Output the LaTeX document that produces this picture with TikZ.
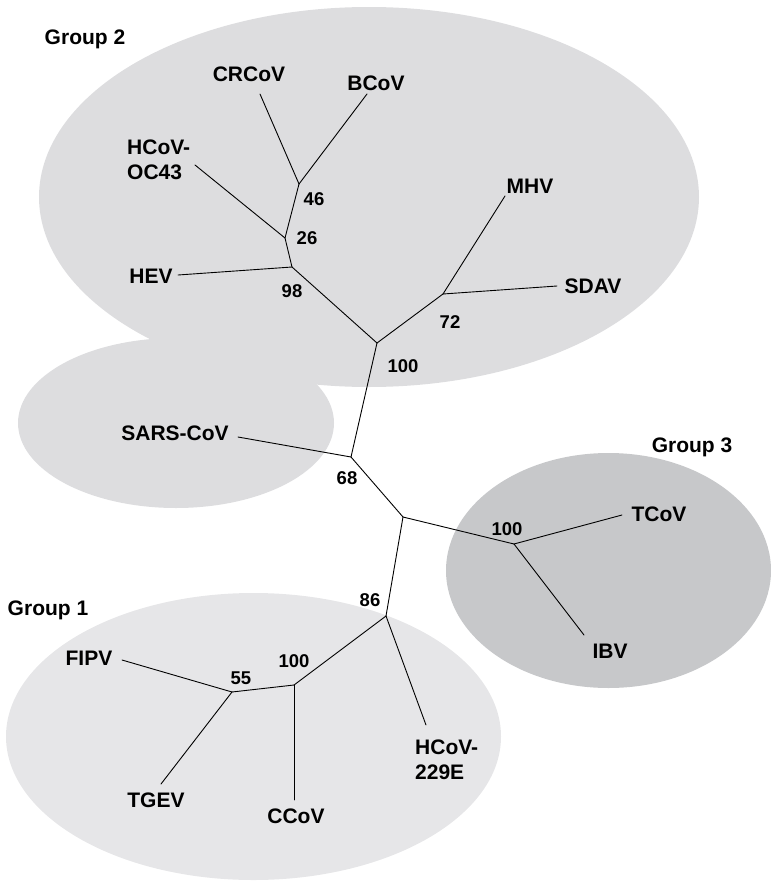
\documentclass[tikz,border=0pt]{standalone}
\usepackage{fontspec}
\setmainfont{Liberation Sans}
\definecolor{gtwo}{RGB}{221,221,223}
\definecolor{gone}{RGB}{230,230,232}
\definecolor{gthree}{RGB}{199,200,202}
\begin{document}
\begin{tikzpicture}[x=1pt,y=-1pt,
  lab/.style={font=\fontsize{21}{25}\selectfont\bfseries, inner sep=0pt, text height=15pt, text depth=0pt},
  lab2/.style={font=\fontsize{21}{25}\selectfont\bfseries, inner sep=0pt, align=left, anchor=north west},
  num/.style={font=\fontsize{18.5}{22}\selectfont\bfseries, inner sep=0pt, text height=13.2pt, text depth=0pt},
  branch/.style={line width=0.9pt, line cap=round, line join=round}]
\useasboundingbox (0,0) rectangle (771,881);
\begin{scope}
  \clip (0,0) rectangle (771,881);
  \fill[gtwo] (369,197) ellipse [x radius=330, y radius=190];
  \fill[gtwo] (176,423) ellipse [x radius=158, y radius=85];
  \fill[gthree] (608.5,570.5) ellipse [x radius=162.5, y radius=117.5];
  \fill[gone] (253.5,736.5) ellipse [x radius=247.5, y radius=143.5];
\end{scope}
% junctions
\coordinate (j46) at (299,184);
\coordinate (j26) at (285,238);
\coordinate (j98) at (292,267);
\coordinate (j100a) at (377,343);
\coordinate (j72) at (443,294);
\coordinate (j68) at (351,457);
\coordinate (jm) at (403,517);
\coordinate (jg3) at (514,544);
\coordinate (j86) at (386,616);
\coordinate (j100b) at (294,685);
\coordinate (j55) at (232,692);
% leaf ends
\coordinate (eCR) at (260,94);
\coordinate (eB) at (367,94);
\coordinate (eOC) at (195,165);
\coordinate (eHEV) at (178,275);
\coordinate (eMHV) at (505,196);
\coordinate (eSDAV) at (557,286);
\coordinate (eSARS) at (238,437);
\coordinate (eT) at (622,515);
\coordinate (eIBV) at (584,635);
\coordinate (eFIPV) at (122,660);
\coordinate (eTGEV) at (161,784);
\coordinate (eCCoV) at (294,800);
\coordinate (e229) at (426,725);
% branches
\draw[branch] (j46) -- (eCR);
\draw[branch] (j46) -- (eB);
\draw[branch] (j46) -- (j26);
\draw[branch] (j26) -- (eOC);
\draw[branch] (j26) -- (j98);
\draw[branch] (j98) -- (eHEV);
\draw[branch] (j98) -- (j100a);
\draw[branch] (j100a) -- (j72);
\draw[branch] (j72) -- (eMHV);
\draw[branch] (j72) -- (eSDAV);
\draw[branch] (j100a) -- (j68);
\draw[branch] (j68) -- (eSARS);
\draw[branch] (j68) -- (jm);
\draw[branch] (jm) -- (jg3);
\draw[branch] (jg3) -- (eT);
\draw[branch] (jg3) -- (eIBV);
\draw[branch] (jm) -- (j86);
\draw[branch] (j86) -- (e229);
\draw[branch] (j86) -- (j100b);
\draw[branch] (j100b) -- (eCCoV);
\draw[branch] (j100b) -- (j55);
\draw[branch] (j55) -- (eFIPV);
\draw[branch] (j55) -- (eTGEV);
% group labels
\node[lab] (g2) at (85,37) {Group 2};
\node[lab] (g3) at (692,445) {Group 3};
\node[lab] (g1) at (48,608) {Group 1};
% taxa
\node[lab] (crcov) at (249,74) {CRCoV};
\node[lab] (bcov) at (376,83) {BCoV};
\node[lab2] (oc43) at (127,140) {HCoV-\\OC43};
\node[lab] (hev) at (151,276) {HEV};
\node[lab] (mhv) at (530,186) {MHV};
\node[lab] (sdav) at (593,286) {SDAV};
\node[lab] (sars) at (175,433) {SARS-CoV};
\node[lab] (tcov) at (659,514) {TCoV};
\node[lab] (ibv) at (610,651) {IBV};
\node[lab] (fipv) at (89,658) {FIPV};
\node[lab] (tgev) at (156,800) {TGEV};
\node[lab] (ccov) at (296,816) {CCoV};
\node[lab2] (h229) at (415,740) {HCoV-\\229E};
% bootstrap values
\node[num] (b46) at (314,199) {46};
\node[num] (b26) at (307,238) {26};
\node[num] (b98) at (292,291) {98};
\node[num] (b72) at (450,322) {72};
\node[num] (b100a) at (403,366) {100};
\node[num] (b68) at (347,478) {68};
\node[num] (b100c) at (507,529) {100};
\node[num] (b86) at (370,600) {86};
\node[num] (b100b) at (294,661) {100};
\node[num] (b55) at (241,678) {55};
\end{tikzpicture}
\end{document}
